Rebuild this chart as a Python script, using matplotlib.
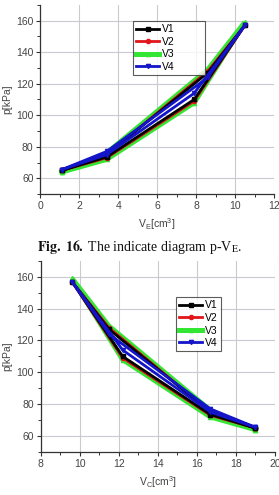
import matplotlib
matplotlib.use("Agg")
import matplotlib.pyplot as plt
from matplotlib.ticker import MultipleLocator

# data (each series is a closed p-V loop)
labels = ["V1", "V2", "V3", "V4"]
v_e = [1.1, 3.4, 7.9, 10.5, 8.6, 3.4, 1.1]
v_c = [19.0, 16.7, 12.2, 9.6, 11.5, 16.7, 19.0]
p_v1 = [65, 73.5, 110, 157, 127, 75, 65]
p_v2 = [65, 73, 109, 157, 128, 75, 65]
p_v3 = [64, 72, 108, 159, 129, 76, 64]
p_v4 = [65.5, 75, 114, 157, 124, 77, 65.5]
pressures = [p_v1, p_v2, p_v3, p_v4]

colors = ["#000000", "#e0161a", "#33e633", "#1414c8"]
markers = ["s", "o", "^", "v"]
widths = [2.0, 2.0, 3.6, 2.0]
zorders = [4, 3, 2, 5]

plt.rcParams['font.family'] = ['Liberation Sans', 'DejaVu Sans']
tick_col = "#444444"

fig = plt.figure(figsize=(2.79, 4.95), dpi=100)
ax1 = fig.add_axes([0.145, 0.608, 0.837, 0.382])
ax2 = fig.add_axes([0.146, 0.087, 0.839, 0.386])


def style(ax, xlo, xhi, xlabel):
    ax.set_xlim(xlo, xhi)
    ax.set_ylim(50, 170)
    ax.xaxis.set_major_locator(MultipleLocator(2))
    ax.xaxis.set_minor_locator(MultipleLocator(1))
    ax.set_yticks(range(60, 161, 20))
    ax.yaxis.set_minor_locator(MultipleLocator(10))
    ax.grid(True, which="major", color="#c9c9d2", lw=0.8)
    ax.set_axisbelow(True)
    for s in ["top", "right"]:
        ax.spines[s].set_visible(False)
    for s in ["left", "bottom"]:
        ax.spines[s].set_color("#333333")
        ax.spines[s].set_linewidth(0.9)
    ax.tick_params(which="major", direction="out", length=3, width=0.8,
                   labelsize=7.5, colors="#333333", labelcolor=tick_col, pad=2)
    ax.tick_params(which="minor", direction="out", length=2, width=0.7,
                   colors="#333333")
    ax.set_ylabel("p[kPa]", fontsize=7.5, color=tick_col, labelpad=3)
    ax.set_xlabel(xlabel, fontsize=7.5, color=tick_col, labelpad=4)


def draw(ax, xs):
    for lab, p, c, m, w, z in zip(labels, pressures, colors, markers, widths, zorders):
        ax.plot(xs, p, color=c, lw=w, marker=m, ms=3, label=lab, zorder=z,
                solid_joinstyle="miter")


draw(ax1, v_e)
style(ax1, 0, 12, r"V$_\mathregular{E}$[cm$^\mathregular{3}$]")
leg1 = ax1.legend(loc="upper left", bbox_to_anchor=(0.396, 0.915, 0.308, 0.0),
                  mode="expand", fontsize=7.5, frameon=True, fancybox=False,
                  handlelength=2.2, handletextpad=0.3, borderpad=0.3,
                  labelspacing=0.25, borderaxespad=0)
leg1.get_frame().set_edgecolor("#333333")
leg1.get_frame().set_linewidth(0.8)

draw(ax2, v_c)
style(ax2, 8, 20, r"V$_\mathregular{C}$[cm$^\mathregular{3}$]")
leg2 = ax2.legend(loc="upper left", bbox_to_anchor=(0.578, 0.81),
                  fontsize=7.5, frameon=True, fancybox=False,
                  handlelength=2.2, handletextpad=0.3, borderpad=0.3,
                  labelspacing=0.25, borderaxespad=0)
leg2.get_frame().set_edgecolor("#333333")
leg2.get_frame().set_linewidth(0.8)

plt.rcParams['mathtext.fontset'] = 'stix'
fig.text(0.5, 1 - 247 / 495, r"$\mathbf{Fig.\ 16.}$ The indicate diagram p-V$_\mathrm{E}$.",
         ha="center", va="center", fontsize=10, family="Liberation Serif",
         color="#111111")

fig.savefig("out.png", dpi=100)
